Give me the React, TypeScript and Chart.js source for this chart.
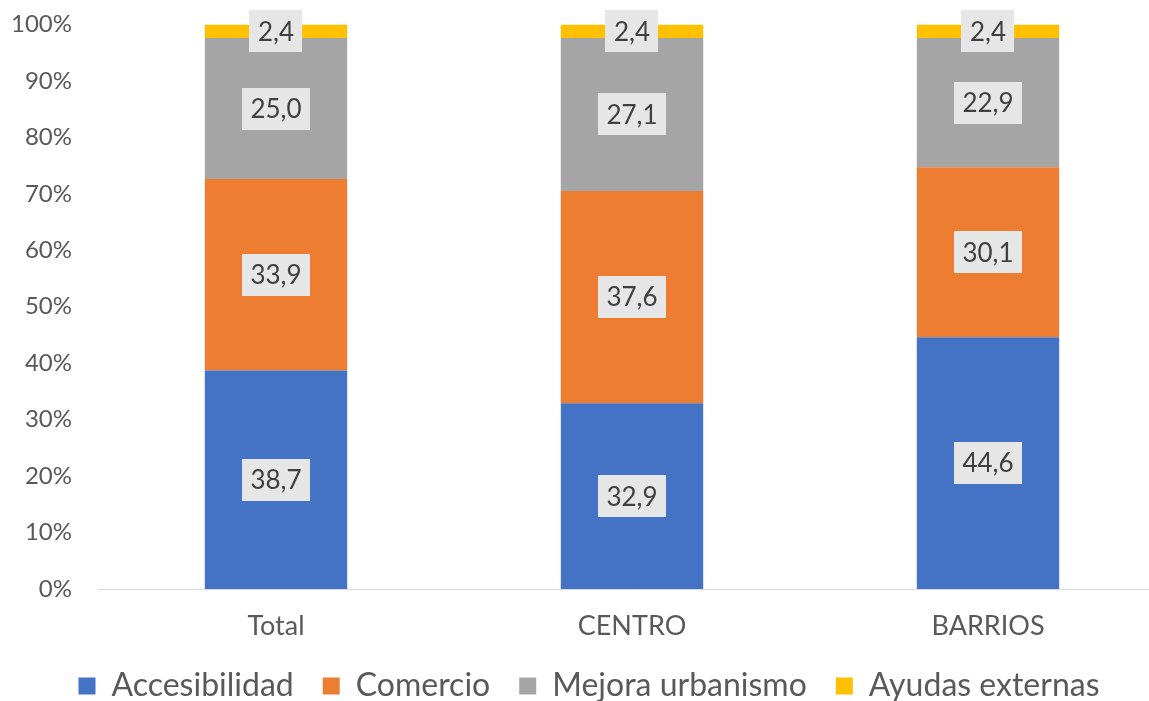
import React, { useEffect, useRef } from "react";
import { Chart, registerables } from "chart.js";

Chart.register(...registerables);

const categories = ["Total", "CENTRO", "BARRIOS"];
const accesibilidad = [38.7, 32.9, 44.6];
const comercio = [33.9, 37.6, 30.1];
const mejoraUrbanismo = [25.0, 27.1, 22.9];
const ayudasExternas = [2.4, 2.4, 2.4];
const yTicks = [0, 10, 20, 30, 40, 50, 60, 70, 80, 90, 100];

const FONT = "Lato, 'DejaVu Sans', sans-serif";

const labelPlugin = {
  id: "boxLabels",
  afterDatasetsDraw(chart: any) {
    const ctx = chart.ctx;
    ctx.save();
    ctx.font = `26px ${FONT}`;
    ctx.textAlign = "center";
    ctx.textBaseline = "middle";
    chart.data.datasets.forEach((ds: any, di: number) => {
      const meta = chart.getDatasetMeta(di);
      if (meta.hidden) return;
      meta.data.forEach((bar: any, i: number) => {
        const v = ds.data[i];
        const text = v.toFixed(1).replace(".", ",");
        const cy = (bar.y + bar.base) / 2;
        const w = ctx.measureText(text).width + 17;
        const h = 42;
        ctx.fillStyle = "#E7E6E6";
        ctx.fillRect(Math.round(bar.x - w / 2), Math.round(cy - h / 2), Math.round(w), h);
        ctx.fillStyle = "#404040";
        ctx.fillText(text, bar.x, cy + 1);
      });
    });
    ctx.restore();
  },
};

export default function App() {
  const ref = useRef<HTMLCanvasElement>(null);
  useEffect(() => {
    if (!ref.current) return;
    const chart = new Chart(ref.current, {
      type: "bar",
      data: {
        labels: categories,
        datasets: [
          { label: "Accesibilidad", data: accesibilidad, backgroundColor: "#4472C4" },
          { label: "Comercio", data: comercio, backgroundColor: "#ED7D31" },
          { label: "Mejora urbanismo", data: mejoraUrbanismo, backgroundColor: "#A5A5A5" },
          { label: "Ayudas externas", data: ayudasExternas, backgroundColor: "#FFC000" },
        ],
      },
      options: {
        responsive: false,
        animation: false,
        layout: { padding: { left: 12, right: 4, top: 0, bottom: 0 } },
        datasets: { bar: { barPercentage: 0.4, categoryPercentage: 1 } },
        plugins: {
          tooltip: { enabled: false },
          legend: {
            position: "bottom",
            labels: {
              boxWidth: 17,
              boxHeight: 17,
              padding: 29,
              color: "#595959",
              font: { family: FONT, size: 32 },
            },
          },
        },
        scales: {
          x: {
            stacked: true,
            grid: { display: false, drawTicks: false },
            border: { color: "#D9D9D9", width: 1 },
            ticks: { color: "#595959", font: { family: FONT, size: 27 }, padding: 21 },
            afterFit: (scale: any) => {
              scale.height = 52;
            },
          },
          y: {
            stacked: true,
            min: 0,
            max: 100,
            afterBuildTicks: (scale: any) => {
              scale.ticks = yTicks.map((v) => ({ value: v }));
            },
            grid: { display: false, drawTicks: false },
            border: { display: false },
            ticks: {
              color: "#595959",
              font: { family: FONT, size: 24 },
              padding: 26,
              callback: (v: any) => `${v}%`,
            },
            afterFit: (scale: any) => {
              scale.width = 86;
            },
          },
        },
      },
      plugins: [labelPlugin],
    });
    return () => chart.destroy();
  }, []);
  return (
    <div style={{ position: "fixed", left: 0, top: 0, width: "100vw", height: "100vh", overflow: "hidden", background: "#fff" }}>
      <canvas ref={ref} width={1170} height={728} style={{ display: "block", marginTop: -16 }} />
    </div>
  );
}
